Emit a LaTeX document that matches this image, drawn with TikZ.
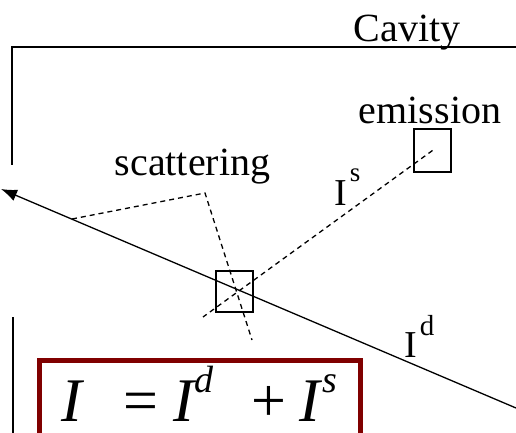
\documentclass[tikz,border=0pt]{standalone}
\usepackage{fontspec}
\setmainfont{Liberation Serif}
\usetikzlibrary{arrows.meta, calc}
\definecolor{cornice}{HTML}{800000}
\newcommand{\apice}[3]{\raisebox{#1}{\fontsize{#2}{#2}\selectfont #3}}
\tikzset{
	% punta del raggio
	punta/.tip={Latex[length=16pt, width=12pt]},
	% riquadro (volume elementare)
	cella/.style={draw, line width=1.6pt, rectangle, inner sep=0pt},
	% etichette di testo
	etich/.style={font=\fontsize{40}{44}\selectfont, inner sep=0pt},
	% intensita' (I^s, I^d)
	intens/.style={font=\fontsize{38}{42}\selectfont, inner sep=0pt},
	% raggio diretto
	raggio/.style={line width=1.3pt},
	% raggio diffuso / emesso
	tratto/.style={line width=1.3pt, dash pattern=on 5pt off 4pt},
	% pareti della cavita'
	parete/.style={line width=1.8pt},
	% riquadro della formula
	cornice/.style={line width=5pt, draw=cornice},
}

\begin{document}
\begin{tikzpicture}[x=1pt, y=-1pt]
    \useasboundingbox (0,0) rectangle (516,433);
    % pareti
    \draw[parete] (516,47) -- (12,47) -- (12,165);
    \draw[parete] (13,317) -- (13,433);
    \node[etich, anchor=base] (cav) at (407,42) {Cavity};
    % celle
    \node[cella, minimum width=37pt, minimum height=43pt] (emit) at (432.5,150.5) {};
    \node[cella, minimum width=37pt, minimum height=41pt] (scat) at (234.5,291.5) {};
    \node[etich, anchor=base] (temit) at (430,123) {emission};
    \node[etich, anchor=base] (tscat) at (192.5,175) {scattering};
    % raggio diretto
    \coordinate (rin)  at (1,189);
    \coordinate (rout) at (516,408);
    \draw[raggio, punta-] (rin) -- (rout);
    % diffusione
    \coordinate (sin)  at (72,219);
    \coordinate (sgom) at (205,193);
    \coordinate (sfin) at (252,340);
    \draw[tratto] (sin) -- (sgom) -- (sfin);
    % emissione
    \coordinate (efin) at (203,317);
    \draw[tratto] (emit.center) -- (efin);
    % intensita'
    \node[intens, anchor=base west] (is) at (334,205) {I\hspace{3pt}\apice{24pt}{27}{s}};
    \node[intens, anchor=base west] (id) at (404,357) {I\hspace{3pt}\apice{22pt}{29}{d}};
    % formula
    \draw[cornice] (39.5,433) |- (360.5,360.5) -- (360.5,433);
    \node[anchor=base west, inner sep=0pt, font=\fontsize{62}{64}\selectfont\itshape] (form) at (61,421)
      {I\hspace{38pt}=\hspace{12pt}I\apice{29pt}{38}{d}\hspace{34pt}+\hspace{10pt}I\hspace{3pt}\apice{29pt}{38}{s}};
\end{tikzpicture}
\end{document}
